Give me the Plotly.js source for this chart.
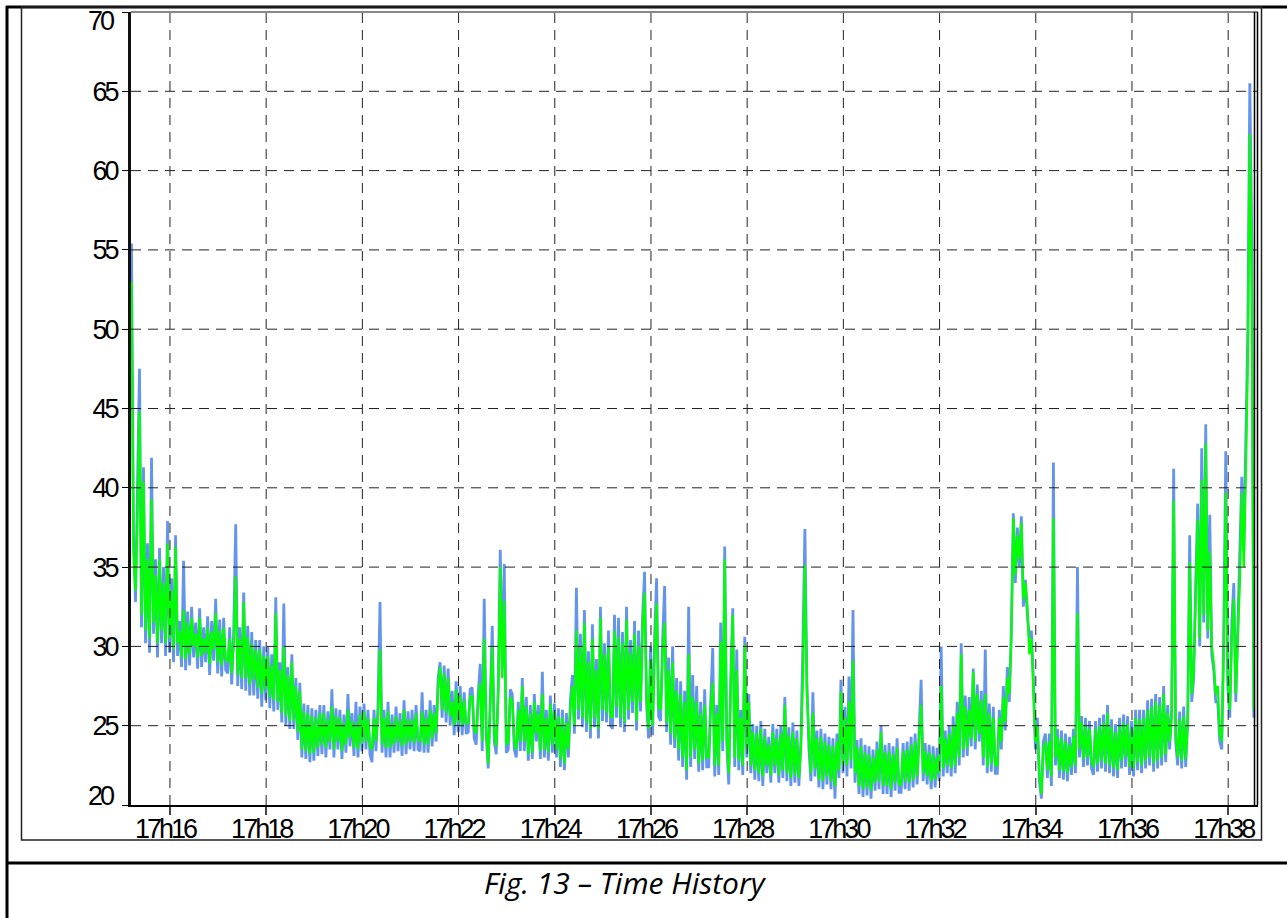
<!DOCTYPE html>
<html>
<head>
<meta charset="utf-8">
<script src="https://cdn.plot.ly/plotly-3.0.1.min.js"></script>
<style>
  html, body { margin: 0; padding: 0; background: #ffffff; }
  #chart { width: 1287px; height: 918px; }
  #chart .xtick text, #chart .ytick text,
  #chart .annotation[data-index="0"] text, #chart .annotation[data-index="1"] text { letter-spacing: -3px; }
</style>
</head>
<body>
<div id="chart"></div>
<script>
// ---- data ----
const sampleStartMin = 15.2;   // minutes after 17h00 of the first sample
const sampleStepSec = 2.5;     // sampling interval of the level series

// green level, one row per minute (24 samples per minute)
const greenLevel = [
  53, 36, 33.5, 38, 44.8, 32, 40.4, 31, 35.5, 30.5, 39.3, 31.5, 34.5, 30.2, 35.5, 31, 34, 30.2, 36.5, 30.5, 33.5, 29.8, 36.3, 30.2,
  31, 29.3, 32.3, 29.2, 31.5, 29.5, 31.8, 30, 30.8, 29.3, 31.8, 29.4, 30.5, 29.6, 31.2, 28.9, 30.9, 29.8, 32.1, 29, 31, 28.8, 31.2, 29.2,
  29, 30.5, 28.3, 30.2, 34.4, 28.2, 30.5, 28, 32.8, 28, 30.6, 27.6, 30.2, 27.9, 29.8, 27.4, 29.8, 27, 29.4, 27.3, 29.4, 26.8, 28.8, 26.6,
  32.1, 26.5, 28.5, 25.8, 30, 25.6, 28.2, 25.3, 29, 25.3, 27.5, 24.6, 27.2, 23.5, 25.9, 23.4, 25.8, 23.2, 25.6, 23.3, 25.5, 23.6, 25.8, 23.8,
  25.8, 23.6, 25.4, 24, 26.2, 23.5, 25.6, 24, 25.5, 23.4, 25.2, 23.8, 26, 24.2, 25.3, 23.6, 25.2, 23.5, 25.7, 23.9, 25.9, 24, 25.5, 23.7,
  23.5, 25.5, 24, 25.7, 29.8, 23.8, 25.5, 23.6, 25.9, 23.6, 25.2, 23.8, 25.6, 24, 25.3, 23.7, 26, 23.8, 25.4, 24, 25.4, 23.9, 25.8, 24.2,
  24, 25.9, 23.8, 25.5, 23.8, 26, 24.2, 25.8, 24.5, 27.5, 28.7, 26, 28.3, 25.8, 28, 25.6, 26.5, 25, 27.3, 25.2, 26.9, 25, 26.6, 25.1,
  25.2, 26.8, 26.9, 24.8, 24.5, 26.5, 27.7, 24, 30.5, 25, 22.6, 26, 30, 24.5, 23.7, 27, 35, 28, 32.9, 23.8, 24, 26.8, 26.5, 24,
  23.5, 26, 24, 27.5, 24, 26.2, 23.2, 25.8, 23.3, 26.5, 24.5, 25.8, 23.4, 27, 23.5, 25.5, 23.3, 26.4, 23.8, 25.9, 23.5, 25.6, 22.9, 25.5,
  22.6, 25.2, 23.5, 26, 27.5, 25, 31, 26, 30, 25.5, 31.5, 25.2, 29, 24.8, 30.5, 25.5, 28.5, 24.8, 31.8, 26, 29.5, 25.8, 30, 25.6,
  25.5, 31, 26.2, 30.6, 25.5, 30.2, 25.2, 31.7, 26, 29.6, 26.5, 30.8, 25.3, 30, 26.5, 31, 33.4, 27, 24.8, 29.2, 25, 29.5, 32.7, 26.2,
  26, 29.5, 31.5, 25.2, 28.5, 24.5, 29, 24.2, 27.2, 23.5, 27, 23, 26.5, 22.2, 29.5, 23, 26.8, 23.5, 26.5, 22.6, 25.8, 22.8, 26.3, 23,
  23, 26, 27.7, 22.5, 25.8, 22.5, 30.3, 24, 35.5, 24.5, 22, 27.5, 32, 23, 28.5, 22.8, 25.5, 22.5, 30.1, 23.5, 26.5, 22.5, 24.6, 22.2,
  24.5, 22, 24.8, 21.8, 24.3, 22.5, 23.8, 21.9, 24.6, 22.5, 24.2, 21.9, 24.5, 22.2, 26.3, 22, 24.4, 21.7, 24.6, 21.9, 24.2, 21.7, 23.5, 28,
  35.1, 27, 24.2, 22, 25.8, 22.3, 24.2, 21.6, 24.3, 21.5, 24, 21.8, 23.8, 21.5, 23.7, 21.2, 24, 22.2, 27.1, 22.5, 25.5, 22.5, 26.5, 22.8,
  29.1, 22, 23.6, 21.2, 23.7, 21, 23.3, 21.1, 23.2, 20.9, 23, 21.4, 23.5, 21.5, 24.6, 21.2, 23.3, 21.2, 23.4, 21, 23.2, 21.4, 23.6, 21.3,
  21.3, 23.4, 21.5, 23.5, 21.4, 23.8, 21.6, 24, 21.8, 24.2, 26.3, 22, 23.4, 21.8, 23.3, 21.5, 23.2, 21.6, 23, 22, 27.5, 22.3, 24.2, 22.5,
  24.5, 22.3, 25, 22.5, 25.8, 23, 29.5, 23.5, 26.2, 23.6, 26, 24.2, 28.4, 24, 27, 24.5, 26.6, 23, 27, 22.4, 25.8, 22.6, 25.5, 22.5,
  22.5, 25.5, 24, 26.8, 25.2, 28, 27, 30.5, 38.1, 34.5, 37, 35.5, 37.8, 33, 34, 32.5, 29.5, 30.5, 27.5, 24, 25, 22, 20.7, 23.5,
  24, 22.2, 24, 21.8, 38.1, 23, 24.3, 22.2, 24.2, 22.1, 24, 22, 23.8, 22.4, 24.3, 22.5, 32.1, 23.5, 25.2, 22.9, 25, 23, 24.8, 22.8,
  22.4, 24.8, 22.6, 25, 22.8, 25.2, 22.6, 25.8, 22.5, 24.9, 22.3, 24.6, 22.2, 25, 22.8, 25.2, 23, 25.1, 22.4, 24.8, 22.3, 25.5, 22.7, 25.4,
  22.5, 25.5, 22.8, 26, 23, 26.2, 22.6, 26.5, 22.8, 26.3, 23, 27, 23.2, 25.8, 24, 25.5, 39.2, 24.5, 23, 25.4, 22.8, 25.6, 22.9, 25,
  35.3, 27, 28.5, 33, 38, 30.5, 40.5, 32, 42.8, 31, 36, 30, 29, 27, 27.5, 24.5, 24, 30, 39.7, 28, 26, 30.5, 33, 27,
  30, 34, 39.7, 35, 41, 48, 62.3, 52.5, 26
];

// blue level, same sampling
const blueLevel = [
  55.4, 37, 32.8, 39, 47.5, 31.2, 41.3, 30.2, 36.5, 29.6, 41.9, 30.8, 35.5, 29.3, 36.2, 30.2, 35, 29.4, 37.9, 29.6, 34.3, 29, 37, 29.4,
  31.6, 28.7, 35.4, 28.5, 32.2, 28.8, 32.5, 29.3, 31.5, 28.6, 32.4, 28.7, 31.2, 29, 31.9, 28.2, 31.6, 29.1, 33, 28.3, 31.7, 28.1, 31.8, 28.5,
  28.3, 31.2, 27.6, 30.9, 37.7, 27.5, 31.2, 27.3, 33.4, 27.2, 31.3, 26.9, 30.9, 26.9, 30.4, 26.7, 30.4, 26.2, 30, 26.6, 30, 26.1, 29.5, 25.9,
  33.1, 26, 29, 25.2, 32.7, 25, 28.7, 24.8, 29.5, 24.8, 28, 24.1, 27.7, 23, 26.4, 22.9, 26.3, 22.7, 26.1, 22.8, 26, 23.1, 26.3, 23.2,
  26.3, 23, 25.9, 23.5, 27.3, 23, 26.1, 23.5, 26, 22.9, 25.7, 23.3, 27, 23.7, 25.8, 23.1, 26.5, 23, 26.2, 23.4, 26.4, 23.5, 26, 23.2,
  22.7, 26, 23.4, 26.2, 32.8, 23.3, 26, 23, 26.5, 23, 25.7, 23.3, 26.2, 23.4, 25.8, 23.1, 26.6, 23.2, 25.9, 23.5, 26, 23.4, 26.3, 23.5,
  23.4, 27.1, 23.3, 26, 23.3, 26.6, 23.7, 26.3, 24, 28, 29, 25.5, 28.8, 25.2, 28.6, 25, 27.2, 24.4, 27.8, 24.6, 27.5, 24.4, 27.1, 24.5,
  24.6, 27.3, 27.4, 24.2, 23.8, 27, 28.9, 23.4, 33, 24.4, 22.3, 26.5, 31.3, 24, 23.2, 27.5, 36.1, 28.5, 35.2, 23.3, 23.5, 27.3, 27, 23.5,
  23, 26.5, 23.4, 28, 23.4, 26.8, 22.8, 26.3, 22.9, 27, 24, 26.3, 22.9, 28.4, 23, 26, 22.8, 26.9, 23.3, 26.4, 23, 26.1, 22.4, 26,
  22.2, 25.8, 23, 26.6, 28.2, 24.5, 33.7, 25.4, 30.8, 24.9, 32.3, 24.6, 29.7, 24.2, 31.4, 24.9, 29.2, 24.2, 32.5, 25.3, 30.2, 25.2, 31, 25,
  24.8, 32, 25.5, 31.8, 24.9, 30.9, 24.6, 32.5, 25.4, 30.4, 25.8, 31.6, 24.7, 31, 25.9, 31.8, 34.7, 26.4, 24.2, 30, 24.4, 30.5, 34.3, 25.6,
  25.3, 30.3, 33.8, 24.6, 29.3, 23.8, 30, 23.6, 28, 22.8, 27.8, 22.4, 27.2, 21.6, 32.5, 22.4, 28.2, 22.9, 27.5, 22.1, 26.5, 22.2, 27.3, 22.4,
  22.4, 26.5, 29.9, 21.8, 26.3, 21.9, 31.5, 23.4, 36.3, 24, 21.3, 28, 32.4, 22.4, 29.8, 22.2, 26, 21.9, 30.6, 23, 27, 22, 25.1, 21.6,
  25, 21.5, 25.3, 21.2, 24.8, 22, 24.3, 21.4, 25.1, 22, 24.8, 21.4, 25, 21.7, 26.8, 21.5, 24.9, 21.2, 25.2, 21.4, 24.7, 21.2, 24, 30,
  37.4, 27.8, 23.6, 21.5, 27.1, 21.8, 24.7, 21.1, 24.8, 21, 24.5, 21.3, 24.3, 21, 24.2, 20.4, 24.5, 21.7, 27.9, 22, 26.2, 21.8, 28.1, 22.3,
  32.3, 21.4, 24.1, 20.7, 24.2, 20.5, 23.8, 20.6, 23.7, 20.4, 23.5, 20.9, 24, 21, 25, 20.7, 23.8, 20.7, 23.9, 20.5, 23.7, 20.9, 24.2, 20.8,
  20.8, 23.9, 21, 24, 20.9, 24.3, 21.1, 24.5, 21.3, 24.7, 27.9, 21.5, 23.9, 21.3, 23.8, 21, 23.7, 21.1, 23.6, 21.5, 30, 21.8, 24.7, 22,
  25, 21.8, 25.6, 22, 26.5, 22.5, 30.2, 23, 26.9, 23.1, 26.8, 23.7, 28.6, 23.5, 27.6, 24, 27.2, 22.5, 29.8, 22, 26.4, 22.1, 26.2, 22,
  22, 26, 23.5, 27.5, 24.7, 28.7, 26.5, 31, 38.4, 34, 37.5, 35, 38.2, 32.5, 34.2, 32, 30.5, 31, 28, 23.5, 25.5, 21.5, 20.4, 24,
  24.5, 21.7, 24.5, 21.2, 41.6, 22.5, 24.8, 21.7, 24.7, 21.6, 24.5, 21.5, 24.3, 21.9, 24.8, 22, 35, 23, 25.6, 22.4, 25.5, 22.5, 25.3, 22.3,
  21.9, 25.3, 22.1, 25.5, 22.3, 25.7, 22.1, 26.3, 22, 25.4, 21.8, 25.1, 21.7, 25.5, 22.3, 25.7, 22.4, 25.6, 21.9, 25.3, 21.8, 26, 22.2, 26,
  22, 26, 22.3, 26.6, 22.5, 26.7, 22.1, 27, 22.3, 26.8, 22.5, 27.5, 22.7, 26.3, 23.5, 26, 41.2, 24, 22.5, 25.9, 22.3, 26.2, 22.4, 25.5,
  37, 26.5, 28, 34, 39, 30, 42.5, 31.5, 44, 30.5, 38.3, 29.5, 28.5, 26.5, 26.5, 24, 23.5, 31, 42.3, 27.5, 25.5, 31.5, 34, 26.5,
  31, 35.6, 40.7, 36, 42.8, 50, 65.5, 55.5, 25.5
];

const tickMinutes = [16, 18, 20, 22, 24, 26, 28, 30, 32, 34, 36, 38];
const tickLabels = ["17h16", "17h18", "17h20", "17h22", "17h24", "17h26",
                    "17h28", "17h30", "17h32", "17h34", "17h36", "17h38"];
const levelTicks = [20, 25, 30, 35, 40, 45, 50, 55, 60, 65, 70];
const timeRange = [15.19, 38.62];
const levelRange = [20, 70];
const captionText = "Fig. 13 \u2013 Time History";

// ---- build ----
const sampleTimes = greenLevel.map((_, i) => sampleStartMin + i * sampleStepSec / 60);

const W = 1287, H = 918;
const L = 131, R = 1258, T = 12, B = 805;
const px = x => (x - L) / (R - L);
const py = y => (B - y) / (B - T);

const tickFont = { family: "'Liberation Sans', Arial, sans-serif", size: 27, color: "#000" };

const traces = [
  { x: sampleTimes, y: blueLevel, type: "scatter", mode: "lines",
    line: { color: "#6495ED", width: 2.8 }, hoverinfo: "skip", showlegend: false },
  { x: sampleTimes, y: greenLevel, type: "scatter", mode: "lines",
    line: { color: "#00FF00", width: 2.3 }, hoverinfo: "skip", showlegend: false }
];

const gridStyle = { color: "#222", width: 1, dash: "10px,7px" };
const gridShapes = [
  ...tickMinutes.map(t => ({ type: "line", xref: "x", yref: "paper", x0: t, x1: t, y0: 0, y1: 1,
                             layer: "above", line: gridStyle })),
  ...levelTicks.filter(v => v > levelRange[0] && v < levelRange[1])
     .map(v => ({ type: "line", xref: "paper", yref: "y", x0: 0, x1: 1, y0: v, y1: v,
                  layer: "above", line: gridStyle }))
];

const frame = { color: "#000", width: 3 };
const frameShapes = [
  // table borders
  { type: "line", xref: "paper", yref: "paper", x0: px(7), x1: px(7), y0: py(6), y1: py(925), line: frame },
  { type: "line", xref: "paper", yref: "paper", x0: px(6), x1: px(1295), y0: py(7), y1: py(7), line: frame },
  { type: "line", xref: "paper", yref: "paper", x0: px(6), x1: px(1295), y0: py(863), y1: py(863), line: frame },
  // chart frame
  { type: "rect", xref: "paper", yref: "paper", x0: px(21.5), x1: px(1261.5), y0: py(840), y1: py(7),
    line: { color: "#222", width: 1.5 } },
  // plot area top and right edges
  { type: "line", xref: "paper", yref: "paper", x0: 0, x1: 1, y0: 1, y1: 1, line: { color: "#888", width: 2 } },
  { type: "line", xref: "paper", yref: "paper", x0: px(1254.5), x1: px(1254.5), y0: 0, y1: 1, line: { color: "#000", width: 1.5 } },
  { type: "line", xref: "paper", yref: "paper", x0: px(1257.5), x1: px(1257.5), y0: 0, y1: 1, line: { color: "#000", width: 1.5 } }
];

// edge level labels sit inside the plot height (as in the reference)
const isEdge = v => v === levelRange[0] || v === levelRange[1];
const levelTickText = levelTicks.map(v => isEdge(v) ? "" : String(v));
const edgeLabels = levelTicks.filter(isEdge).map(v => ({
  xref: "paper", yref: "y", x: 0, y: v, xanchor: "right", yanchor: "middle",
  xshift: -14, yshift: v === levelRange[1] ? -9 : 9,
  text: String(v), showarrow: false, font: tickFont
}));

const layout = {
  width: W, height: H,
  margin: { l: L, r: W - R, t: T, b: H - B, pad: 0 },
  paper_bgcolor: "#ffffff", plot_bgcolor: "#ffffff",
  showlegend: false,
  xaxis: {
    range: timeRange, tickmode: "array", tickvals: tickMinutes, ticktext: tickLabels,
    showgrid: false, zeroline: false, showline: true, linecolor: "#000", linewidth: 1.5,
    ticks: "outside", ticklen: 8, tickwidth: 1.5, tickcolor: "#444",
    tickfont: tickFont, ticklabelshift: -5, ticklabelstandoff: -9
  },
  yaxis: {
    range: levelRange, tickmode: "array", tickvals: levelTicks, ticktext: levelTickText,
    showgrid: false, zeroline: false, showline: true, linecolor: "#111", linewidth: 3,
    ticks: "outside", ticklen: 6, tickwidth: 1, tickcolor: "#000",
    tickfont: tickFont, ticklabelstandoff: 0
  },
  shapes: [...gridShapes, ...frameShapes],
  annotations: [
    ...edgeLabels,
    { xref: "paper", yref: "paper", x: px(625), y: py(882), xanchor: "center", yanchor: "middle",
      text: captionText, showarrow: false,
      font: { family: "'Open Sans', Lato, sans-serif", size: 30, style: "italic", color: "#000" } }
  ]
};

Plotly.newPlot("chart", traces, layout, { staticPlot: true, displayModeBar: false });
</script>
</body>
</html>
